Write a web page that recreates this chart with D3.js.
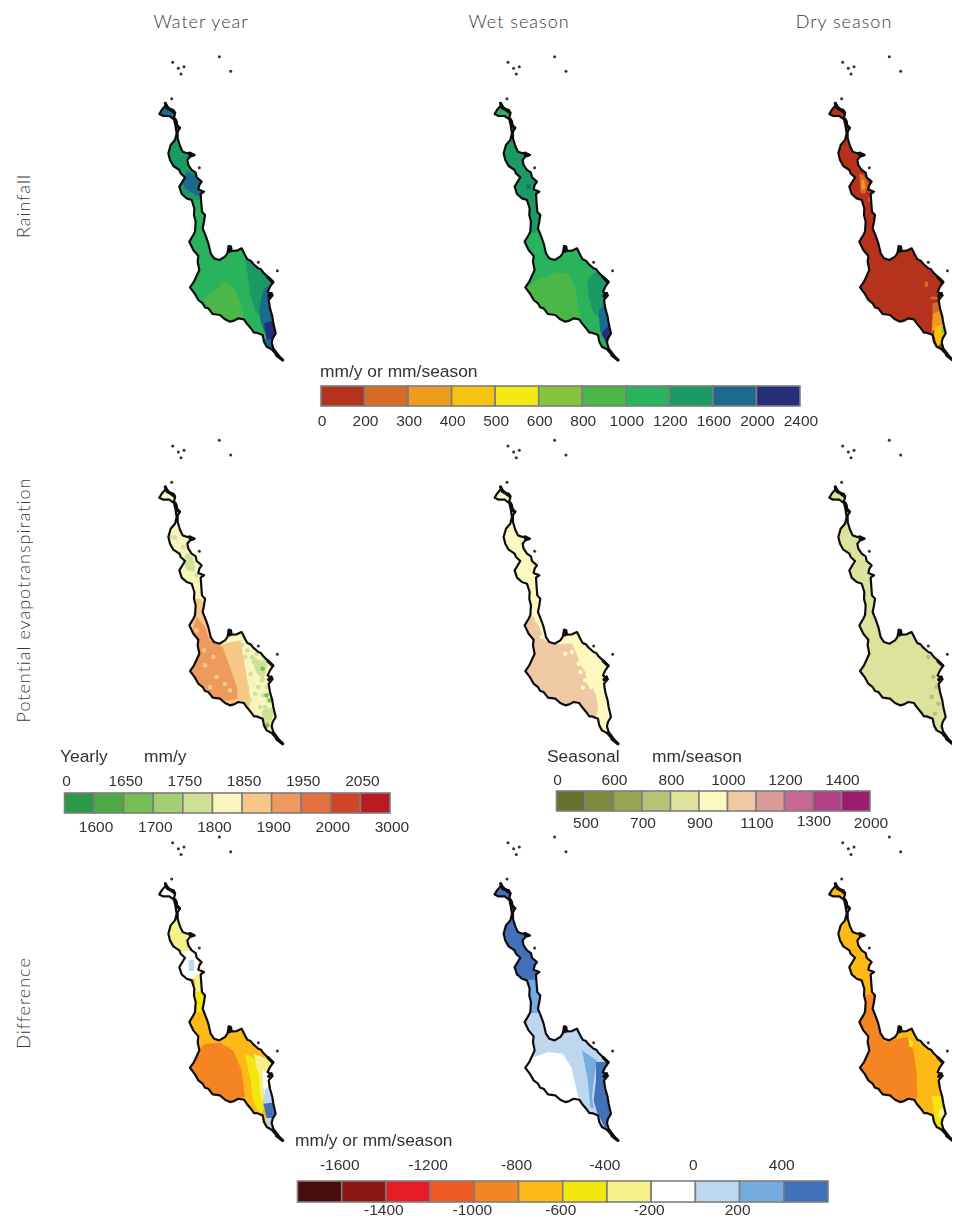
<!DOCTYPE html>
<html lang="en">
<head>
<meta charset="UTF-8">
<title>Rainfall, potential evapotranspiration and difference</title>
<script src="https://d3js.org/d3.v7.min.js"></script>
<style>
    html, body { margin: 0; padding: 0; background: #fff; }
    svg { display: block; }
    .head { font-family: Lato, "Open Sans", sans-serif; font-weight: 300; font-size: 18px; fill: #3a3a3a; letter-spacing: 1px; }
    .leg { font-family: "Liberation Sans", Arial, sans-serif; font-size: 15.5px; fill: #333; }
    .name { font-size: 17.4px; }
</style>
</head>
<body>
<svg width="958" height="1218"></svg>
<script>
// headers
const colTitles = ["Water year", "Wet season", "Dry season"];
const rowTitles = ["Rainfall", "Potential evapotranspiration", "Difference"];

// legends
const rainColors = ["#b5321f", "#d96b27", "#ef9b1e", "#f6c411", "#f3e913", "#86c440", "#4bb748", "#2bb35d", "#1f9a66", "#1c6a8e", "#252f7a"];
const rainLabels = [0, 200, 300, 400, 500, 600, 800, 1000, 1200, 1600, 2000, 2400];
const yearColors = ["#2f9a45", "#4ea845", "#76bd57", "#a3cf73", "#cfe199", "#f8f5bf", "#f8c687", "#ee9a5f", "#e56f42", "#cf4425", "#b81f24"];
const yearLabels = [0, 1600, 1650, 1700, 1750, 1800, 1850, 1900, 1950, 2000, 2050, 3000];
const seasonColors = ["#656f2c", "#7f8a3f", "#9aa553", "#b9c278", "#dde29c", "#fbf8c0", "#efc8a4", "#dc9a9a", "#c66a92", "#b24184", "#9c1c71"];
const seasonLabels = [0, 500, 600, 700, 800, 900, 1000, 1100, 1200, 1300, 1400, 2000];
const diffColors = ["#4a0c0c", "#8a1618", "#e71f26", "#f15a22", "#f58420", "#fdb913", "#f2e70f", "#f6f08a", "#ffffff", "#bdd7ee", "#74acdf", "#4270b9"];
const diffLabels = [-1600, -1400, -1200, -1000, -800, -600, -400, -200, 0, 200, 400];

// catchment outline, islands, thick bits of the border
const outline = [[108,195],[120,207],[131,210],[135,222],[132,232],[140,245],[141,255],[150,264],[143,275],[143,295],[150,318],[158,335],[172,340],[180,338],[194,345],[180,350],[172,360],[175,375],[185,390],[197,398],[200,412],[215,425],[208,435],[205,448],[222,455],[212,462],[214,490],[216,515],[225,525],[222,545],[218,565],[228,590],[235,610],[242,640],[252,655],[268,660],[285,650],[292,640],[297,618],[303,620],[305,633],[320,632],[335,625],[345,645],[352,658],[362,662],[370,672],[385,685],[393,688],[400,698],[415,712],[430,726],[420,740],[413,755],[428,766],[416,780],[420,805],[427,830],[430,850],[437,880],[428,895],[425,908],[430,925],[445,945],[458,960],[440,945],[425,928],[410,920],[402,905],[398,885],[380,878],[372,878],[365,868],[350,850],[342,838],[325,835],[312,842],[300,845],[285,838],[270,825],[248,822],[235,805],[225,802],[218,790],[205,780],[195,762],[180,742],[192,725],[198,712],[208,690],[203,665],[205,648],[190,630],[178,605],[190,585],[195,575],[197,545],[192,525],[193,505],[185,480],[170,475],[155,462],[148,440],[165,412],[152,400],[148,390],[130,378],[120,360],[115,340],[122,315],[135,300],[140,280],[136,255],[132,238],[118,228],[100,228],[88,222],[95,210]];
const islands = [[128,67],[145,85],[162,80],[153,102],[268,50],[302,94],[125,176],[208,383],[385,667],[442,692]];
const thickBits = [[[106,190],[112,204],[122,209],[134,218]], [[297,620],[299,634]], [[190,345],[180,344]], [[414,712],[428,726]], [[424,760],[416,768]], [[440,946],[458,960]], [[136,240],[141,258],[148,264]]];

// value zones per panel, in the outline's coordinates
const rainYearZones = [
    {v: 1400, pts: [[60,262],[230,262],[230,480],[195,480],[60,480]]},
    {v: 1800, pts: [[60,170],[170,170],[170,265],[60,265]]},
    {v: 1800, pts: [[172,393],[200,408],[222,440],[218,472],[190,462],[165,445],[155,425]]},
    {v: 1400, pts: [[345,650],[435,720],[405,750],[395,785],[392,835],[375,810],[360,760],[352,700]]},
    {v: 1800, pts: [[402,745],[435,730],[445,880],[405,880],[392,845],[388,810],[394,775]]},
    {v: 2200, pts: [[403,850],[445,838],[445,900],[410,902]]},
    {v: 1800, pts: [[395,898],[435,898],[435,930],[410,925]]},
    {v: 900, pts: [[285,722],[312,745],[335,800],[345,845],[300,850],[270,830],[238,815],[222,778],[255,750]]}
];
const rainWetZones = [
    {v: 1400, pts: [[60,262],[240,262],[240,578],[195,578],[60,578]]},
    {v: 900, pts: [[270,697],[310,703],[332,745],[338,800],[350,835],[310,850],[270,830],[240,815],[205,785],[170,745],[212,722]]},
    {v: 1400, pts: [[366,720],[392,692],[440,725],[420,790],[402,835],[382,815],[370,770]]},
    {v: 1800, pts: [[400,812],[425,785],[440,860],[405,878]]},
    {v: 2200, pts: [[408,880],[435,852],[445,890],[422,908]]},
    {v: 1800, pts: [[183,434],[195,432],[196,446],[184,446]]}
];
const rainDryZones = [
    {v: 250, pts: [[178,402],[190,404],[205,430],[195,460],[182,460]]},
    {v: 350, pts: [[184,420],[192,420],[196,445],[186,448]]},
    {v: 250, pts: [[205,472],[213,472],[213,485],[205,485]]},
    {v: 250, pts: [[374,725],[384,725],[384,740],[374,740]]},
    {v: 250, pts: [[392,770],[412,770],[412,778],[392,778]]},
    {v: 250, pts: [[398,790],[420,785],[425,850],[395,880]]},
    {v: 350, pts: [[400,820],[420,812],[432,860],[395,872]]},
    {v: 450, pts: [[405,860],[440,850],[435,905],[412,918],[402,885]]},
    {v: 700, pts: [[424,860],[432,860],[434,880],[426,880]]}
];
const petYearZones = [
    {v: 1875, pts: [[195,525],[215,525],[230,585],[240,640],[260,665],[332,650],[345,730],[362,830],[350,880],[250,860],[160,770],[170,600]]},
    {v: 1925, pts: [[200,580],[226,610],[238,650],[278,670],[300,730],[322,795],[322,825],[270,835],[230,830],[160,750],[185,680],[190,610]]},
    {v: 1775, pts: [[165,392],[190,400],[194,445],[172,440],[160,420]]},
    {v: 1775, pts: [[128,335],[140,335],[142,348],[128,348]]},
    {v: 1775, pts: [[396,860],[430,850],[432,870],[410,915],[396,890]]},
    {v: 1775, pts: [[362,695],[412,720],[400,770],[378,745]]}
];
const petWetZones = [
    {v: 1050, pts: [[186,578],[205,578],[222,610],[238,650],[262,662],[320,660],[334,690],[345,725],[360,745],[366,785],[385,790],[392,815],[398,850],[392,885],[365,880],[335,850],[250,840],[160,770],[172,640],[170,600]]}
];
const petDryZones = [];
const diffYearZones = [
    {v: -100, pts: [[70,170],[170,170],[170,292],[70,292]]},
    {v: -300, pts: [[100,292],[200,292],[200,398],[100,398]]},
    {v: -100, pts: [[140,392],[200,392],[215,475],[140,475]]},
    {v: 100, pts: [[176,418],[192,418],[192,452],[176,452]]},
    {v: -300, pts: [[195,462],[222,462],[222,516],[195,516]]},
    {v: -500, pts: [[190,514],[230,514],[230,575],[190,575]]},
    {v: -900, pts: [[225,670],[270,667],[310,690],[335,750],[345,830],[310,850],[260,835],[170,750],[190,705]]},
    {v: -500, pts: [[345,700],[372,712],[384,745],[396,770],[400,860],[396,882],[378,862],[368,835],[362,780]]},
    {v: -300, pts: [[372,700],[435,725],[412,758],[400,800],[400,850],[390,820],[388,770],[378,735]]},
    {v: -100, pts: [[398,752],[420,750],[412,810],[408,860],[402,850]]},
    {v: 100, pts: [[404,805],[430,800],[430,862],[400,868]]},
    {v: 500, pts: [[400,850],[445,845],[445,895],[412,900]]},
    {v: 100, pts: [[405,893],[435,893],[435,930],[415,925]]}
];
const diffWetZones = [
    {v: 500, pts: [[60,170],[240,170],[240,480],[60,480]]},
    {v: 300, pts: [[180,478],[235,478],[235,578],[180,578]]},
    {v: -100, pts: [[190,715],[250,695],[292,700],[318,740],[332,800],[345,860],[300,860],[240,835],[160,760]]},
    {v: 300, pts: [[350,690],[395,720],[388,760],[380,830],[385,865],[375,860],[368,780],[358,730]]},
    {v: 500, pts: [[392,725],[445,725],[445,900],[420,925],[395,875],[385,840],[392,780]]}
];
const diffDryZones = [
    {v: -900, pts: [[195,522],[222,522],[222,575],[238,620],[252,665],[322,650],[340,690],[350,760],[352,830],[345,845],[300,850],[170,770],[165,600]]},
    {v: -500, pts: [[396,826],[424,826],[436,880],[428,920],[408,918]]},
    {v: -300, pts: [[416,868],[434,862],[432,890],[418,892]]},
    {v: -500, pts: [[326,655],[340,665],[336,682],[328,678]]}
];

// speckles of a neighbouring class, as seen in the PET panels
const petYearSpots = [[335,665],[352,680],[345,700],[366,700],[380,690],[372,716],[392,720],[405,712],[382,735],[400,745],[362,750],[396,770],[385,790],[410,790],[375,810],[400,815],[415,830],[360,830],[405,850],[418,865],[352,790],[390,850],[120,340],[150,390],[175,395],[190,430],[200,455],[160,370]];
const petYearDarkSpots = [[398,735],[410,815],[412,905],[420,830]];
const petYearWarmSpots = [[250,700],[225,725],[260,760],[240,790],[285,780],[300,800],[222,680],[200,620],[330,740],[345,790]];
const petWetSpots = [[300,690],[320,685],[340,720],[360,770],[352,792],[378,790],[390,800],[345,745],[215,590],[230,640]];
const petDrySpots = [[400,760],[410,790],[395,820],[415,840],[385,700],[405,870]];

const svg = d3.select("svg");

// map coordinates -> page of the first panel
const xMap = d3.scaleLinear().domain([0, 510]).range([130, 300]);
const yMap = d3.scaleLinear().domain([0, 990]).range([40, 370]);
const lineMap = d3.line().x(d => xMap(d[0])).y(d => yMap(d[1]));
const closed = d3.line().x(d => xMap(d[0])).y(d => yMap(d[1])).curve(d3.curveLinearClosed);

// class colour of a value, same classes as the legends
const rainScale = d3.scaleThreshold().domain(rainLabels.slice(1, -1)).range(rainColors);
const yearScale = d3.scaleThreshold().domain(yearLabels.slice(1, -1)).range(yearColors);
const seasonScale = d3.scaleThreshold().domain(seasonLabels.slice(1, -1)).range(seasonColors);
const diffScale = d3.scaleThreshold().domain(diffLabels).range(diffColors);

const panels = [
    {col: 0, row: 0, scale: rainScale, base: 1100, zones: rainYearZones, spots: []},
    {col: 1, row: 0, scale: rainScale, base: 1100, zones: rainWetZones, spots: []},
    {col: 2, row: 0, scale: rainScale, base: 100, zones: rainDryZones, spots: []},
    {col: 0, row: 1, scale: yearScale, base: 1825, zones: petYearZones,
        spots: [{v: 1775, pts: petYearSpots}, {v: 1675, pts: petYearDarkSpots}, {v: 1875, pts: petYearWarmSpots}]},
    {col: 1, row: 1, scale: seasonScale, base: 950, zones: petWetZones, spots: [{v: 950, pts: petWetSpots}]},
    {col: 2, row: 1, scale: seasonScale, base: 850, zones: petDryZones, spots: [{v: 750, pts: petDrySpots}]},
    {col: 0, row: 2, scale: diffScale, base: -700, zones: diffYearZones, spots: []},
    {col: 1, row: 2, scale: diffScale, base: 100, zones: diffWetZones, spots: []},
    {col: 2, row: 2, scale: diffScale, base: -700, zones: diffDryZones, spots: []}
];

const colX = d3.scaleOrdinal().domain([0, 1, 2]).range([0, 335.3, 670]);
const rowY = d3.scaleOrdinal().domain([0, 1, 2]).range([0, 383.7, 780.4]);

const defs = svg.append("defs");
defs.append("filter").attr("id", "soft").append("feGaussianBlur").attr("stdDeviation", 0.7);
defs.append("filter").attr("id", "softText").append("feGaussianBlur").attr("stdDeviation", 0.4);
defs.append("clipPath").attr("id", "basin").append("path").attr("d", closed(outline));
defs.append("clipPath").attr("id", "page").append("rect").attr("width", 952).attr("height", 1218);

// the dry column is cut by the edge of the picture
const maps = svg.append("g").attr("clip-path", "url(#page)");

panels.forEach(p => {
    const g = maps.append("g")
        .attr("transform", `translate(${colX(p.col)},${rowY(p.row)})`)
        .attr("filter", "url(#soft)");

    const inner = g.append("g").attr("clip-path", "url(#basin)");
    inner.append("path").attr("d", closed(outline)).attr("fill", p.scale(p.base));
    inner.selectAll("path.zone")
        .data(p.zones)
        .enter().append("path")
        .attr("class", "zone")
        .attr("d", d => closed(d.pts))
        .attr("fill", d => p.scale(d.v));
    p.spots.forEach(s => {
        inner.append("g").selectAll("circle")
            .data(s.pts)
            .enter().append("circle")
            .attr("cx", d => xMap(d[0]))
            .attr("cy", d => yMap(d[1]))
            .attr("r", 2.3)
            .attr("fill", p.scale(s.v));
    });

    g.append("path")
        .attr("d", closed(outline))
        .attr("fill", "none")
        .attr("stroke", "#111")
        .attr("stroke-width", 2.2)
        .attr("stroke-linejoin", "round");

    g.selectAll("path.thick")
        .data(thickBits)
        .enter().append("path")
        .attr("class", "thick")
        .attr("d", lineMap)
        .attr("fill", "none")
        .attr("stroke", "#0a0a0a")
        .attr("stroke-width", 3.2)
        .attr("stroke-linecap", "round");

    g.selectAll("circle.island")
        .data(islands)
        .enter().append("circle")
        .attr("class", "island")
        .attr("cx", d => xMap(d[0]))
        .attr("cy", d => yMap(d[1]))
        .attr("r", 1.5)
        .attr("fill", "#333");
});

// column and row headings
const titleX = d3.scaleOrdinal().domain(colTitles).range([201, 519, 844]);
svg.selectAll("text.col")
    .data(colTitles)
    .enter().append("text")
    .attr("class", "head col")
    .attr("x", d => titleX(d))
    .attr("y", 28)
    .attr("text-anchor", "middle")
    .text(d => d);

const titleY = d3.scaleOrdinal().domain(rowTitles).range([206, 600, 1003]);
svg.selectAll("text.row")
    .data(rowTitles)
    .enter().append("text")
    .attr("class", "head row")
    .attr("text-anchor", "middle")
    .attr("transform", d => `translate(30,${titleY(d)}) rotate(-90)`)
    .text(d => d);

// one legend bar with its labels; the first label sits on tick `first`
function drawLegend(o) {
    const g = svg.append("g").attr("filter", "url(#softText)");
    const band = d3.scaleBand().domain(d3.range(o.colors.length)).range([o.x0, o.x1]);
    const ticks = d3.scalePoint().domain(d3.range(o.colors.length + 1)).range([o.x0, o.x1]);

    g.selectAll("rect")
        .data(o.colors)
        .enter().append("rect")
        .attr("x", (d, i) => band(i))
        .attr("y", o.y)
        .attr("width", band.bandwidth())
        .attr("height", o.h)
        .attr("fill", d => d)
        .attr("stroke", "#7d7d7d")
        .attr("stroke-width", 1.6);

    g.selectAll("text.tick")
        .data(o.labels)
        .enter().append("text")
        .attr("class", "leg tick")
        .attr("x", (d, i) => ticks(i + o.first) + o.dx)
        .attr("y", (d, i) => o.rowOf(i))
        .attr("text-anchor", "middle")
        .text(d => d);

    g.selectAll("text.name")
        .data(o.names)
        .enter().append("text")
        .attr("class", "leg name")
        .attr("x", d => d.x)
        .attr("y", o.nameY)
        .text(d => d.t);
}

drawLegend({colors: rainColors, labels: rainLabels, first: 0, dx: 1, x0: 321, x1: 800, y: 386, h: 20,
    rowOf: () => 426, nameY: 377, names: [{t: "mm/y or mm/season", x: 320}]});
drawLegend({colors: yearColors, labels: yearLabels, first: 0, dx: 2, x0: 64.5, x1: 390, y: 793, h: 20,
    rowOf: i => i % 2 ? 832 : 786, nameY: 762, names: [{t: "Yearly", x: 60}, {t: "mm/y", x: 144}]});
drawLegend({colors: seasonColors, labels: seasonLabels, first: 0, dx: 1, x0: 556.5, x1: 870, y: 791, h: 20,
    rowOf: i => i === 9 ? 826 : (i % 2 ? 828 : 785), nameY: 762, names: [{t: "Seasonal", x: 547}, {t: "mm/season", x: 652}]});
drawLegend({colors: diffColors, labels: diffLabels, first: 1, dx: -2, x0: 297.5, x1: 828, y: 1181, h: 21,
    rowOf: i => i % 2 ? 1215 : 1170, nameY: 1146, names: [{t: "mm/y or mm/season", x: 295}]});
</script>
</body>
</html>
